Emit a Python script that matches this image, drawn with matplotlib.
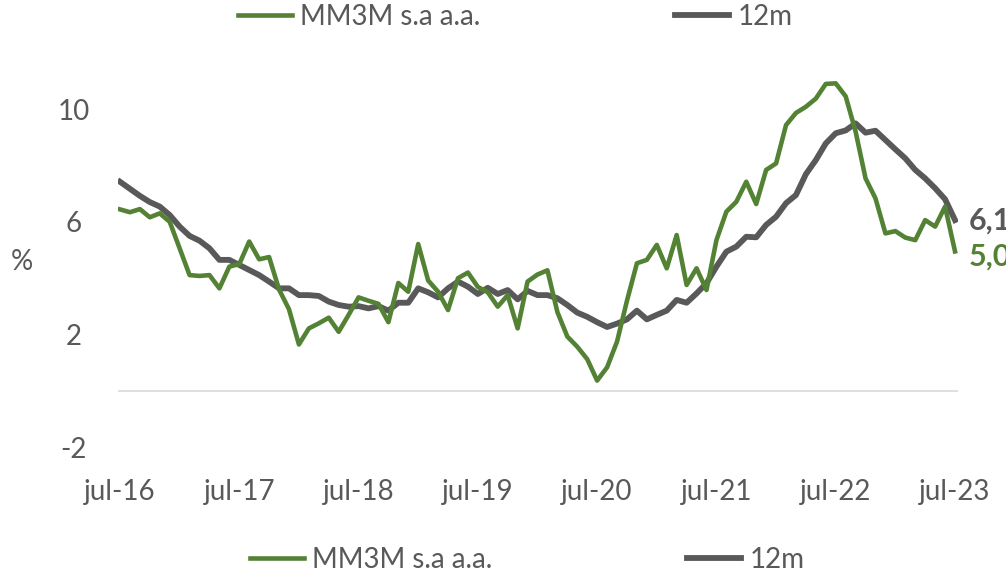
import matplotlib
matplotlib.use("Agg")
import matplotlib.pyplot as plt
from matplotlib.lines import Line2D

plt.rcParams['font.family'] = ['Lato', 'DejaVu Sans']

# monthly data jul-16 .. jul-23
mm3m = [6.44, 6.34, 6.45, 6.16, 6.30, 6.00, 5.06, 4.11, 4.08, 4.11,
        3.64, 4.41, 4.50, 5.30, 4.67, 4.75, 3.60, 2.90, 1.65, 2.22,
        2.40, 2.60, 2.10, 2.70, 3.32, 3.20, 3.09, 2.44, 3.83, 3.52,
        5.21, 3.92, 3.52, 2.87, 4.00, 4.20, 3.69, 3.50, 2.99, 3.40,
        2.22, 3.88, 4.13, 4.28, 2.80, 1.93, 1.57, 1.13, 0.37, 0.84,
        1.75, 3.20, 4.53, 4.65, 5.18, 4.35, 5.53, 3.76, 4.35, 3.58,
        5.35, 6.36, 6.71, 7.42, 6.63, 7.84, 8.07, 9.43, 9.86, 10.08,
        10.37, 10.89, 10.91, 10.45, 9.20, 7.54, 6.83, 5.59, 5.67, 5.44,
        5.35, 6.06, 5.83, 6.54, 4.95]
m12 = [7.42, 7.17, 6.92, 6.70, 6.54, 6.24, 5.83, 5.50, 5.33, 5.06,
       4.65, 4.65, 4.47, 4.29, 4.11, 3.88, 3.64, 3.64, 3.40, 3.40,
       3.37, 3.17, 3.05, 2.99, 3.01, 2.93, 3.01, 2.85, 3.13, 3.13,
       3.64, 3.50, 3.32, 3.64, 3.88, 3.70, 3.44, 3.66, 3.44, 3.58,
       3.25, 3.55, 3.40, 3.40, 3.29, 3.05, 2.78, 2.63, 2.44, 2.27,
       2.39, 2.54, 2.85, 2.54, 2.70, 2.85, 3.23, 3.13, 3.46, 3.82,
       4.41, 4.94, 5.12, 5.47, 5.45, 5.89, 6.18, 6.66, 6.95, 7.69,
       8.19, 8.78, 9.14, 9.24, 9.49, 9.16, 9.23, 8.90, 8.57, 8.25,
       7.84, 7.54, 7.19, 6.80, 6.06]
xlabels = ["jul-16", "jul-17", "jul-18", "jul-19", "jul-20", "jul-21", "jul-22", "jul-23"]
yticks = [-2, 2, 6, 10]
end_labels = ["6,1", "5,0"]

green = "#548235"
grey = "#595959"
x = list(range(len(mm3m)))

fig = plt.figure(figsize=(10.06, 5.74), dpi=100)
ax = fig.add_axes([118/1006, 126.6/574, 840/1006, 394.8/574])

ax.axhline(0, color="#d9d9d9", lw=1.2, zorder=1)
l1, = ax.plot(x, mm3m, color=green, lw=3.3, zorder=3, solid_joinstyle='round')
l2, = ax.plot(x, m12, color=grey, lw=4.2, zorder=2, solid_joinstyle='round')

ax.set_xlim(-0.2, 84.3)
ax.set_ylim(-2, 12)
ax.set_yticks(yticks)
ax.set_yticklabels([str(v) for v in yticks])
ax.set_xticks(x[::12])
ax.set_xticklabels(xlabels)
ax.tick_params(length=0, labelsize=20, labelcolor=grey)
ax.tick_params(axis='x', pad=23)
ax.tick_params(axis='y', pad=32)
for t in ax.get_yticklabels():
    t.set_horizontalalignment('center')
for s in ax.spines.values():
    s.set_visible(False)

ax.annotate(end_labels[0], (x[-1], m12[-1]), xytext=(10, 0), textcoords='offset points',
            color=grey, fontsize=22, fontweight='bold', va='center', ha='left', annotation_clip=False)
ax.annotate(end_labels[1], (x[-1], mm3m[-1]), xytext=(10, -4), textcoords='offset points',
            color=green, fontsize=22, fontweight='bold', va='center', ha='left', annotation_clip=False)

fig.text(22/1006, 1 - 262/574, "%", fontsize=20, color=grey, ha='center', va='center')

handles = [Line2D([], [], color=green, lw=3.3), Line2D([], [], color=grey, lw=4.2)]
names = ["MM3M s.a a.a.", "12m"]
for xa, ya in [(238/1006, 1 - 17/574), (250/1006, 1 - 560/574)]:
    fig.legend(handles, names, loc='center left', bbox_to_anchor=(xa, ya), ncol=2,
               frameon=False, fontsize=20, labelcolor=grey, handlelength=1.95,
               handletextpad=0.3, columnspacing=7.0, borderpad=0, borderaxespad=0)

fig.savefig("out.png", dpi=100)
